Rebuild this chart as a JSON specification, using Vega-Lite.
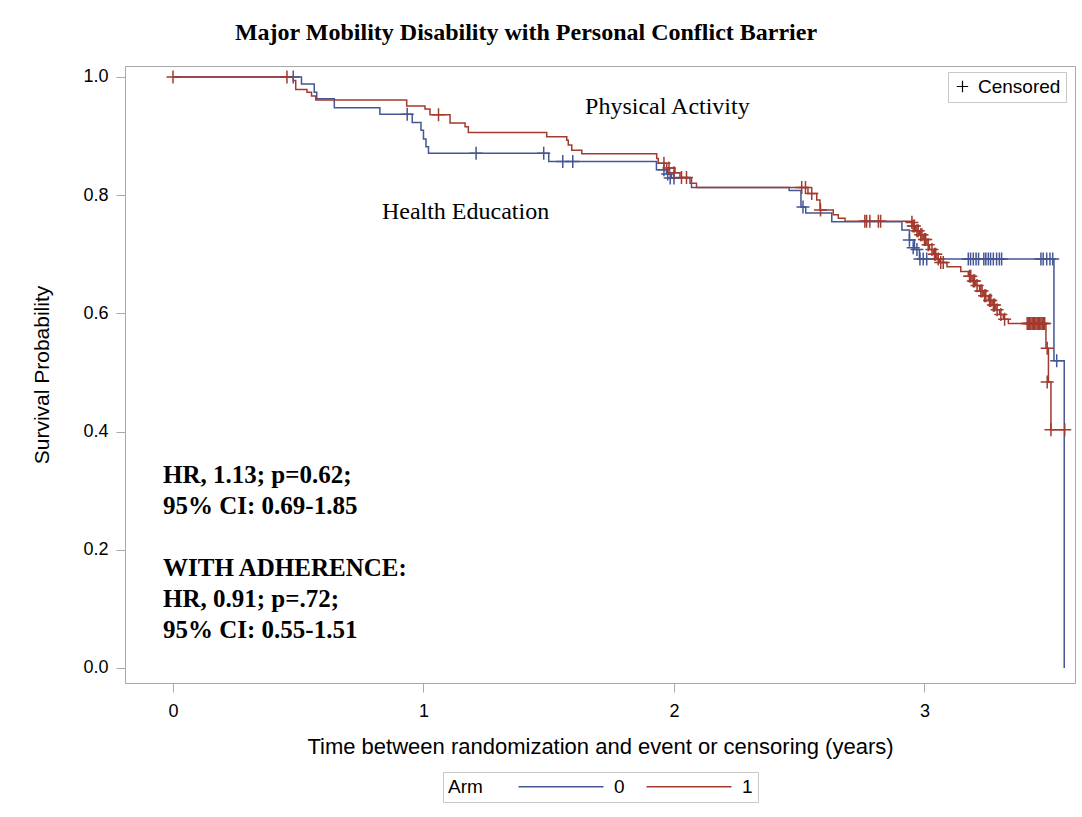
{
  "$schema": "https://vega.github.io/schema/vega-lite/v6.json",
  "width": 950,
  "height": 617,
  "autosize": "none",
  "padding": {"left": 125, "top": 66, "right": 7, "bottom": 134},
  "background": "white",
  "title": {
    "text": "Major Mobility Disability with Personal Conflict Barrier",
    "font": "Liberation Serif",
    "fontSize": 24,
    "fontWeight": "bold",
    "color": "black",
    "anchor": "middle",
    "dx": -74,
    "offset": 21
  },
  "config": {
    "view": {"stroke": "#a8a8a8", "strokeWidth": 1},
    "axis": {
      "grid": false,
      "domain": false,
      "tickColor": "#a8a8a8",
      "tickSize": 9,
      "labelFont": "Liberation Sans",
      "labelFontSize": 18,
      "labelColor": "#000",
      "titleFont": "Liberation Sans",
      "titleFontSize": 21,
      "titleFontWeight": "normal",
      "titleColor": "#000"
    },
    "legend": {
      "labelFont": "Liberation Sans",
      "labelFontSize": 19,
      "labelColor": "#000",
      "titleFont": "Liberation Sans",
      "titleFontSize": 19,
      "titleFontWeight": "normal",
      "titleColor": "#000",
      "strokeColor": "#c8c8c8",
      "padding": 5
    }
  },
  "datasets": {
    "curve": [
      {"arm": "0", "t": 0, "s": 1.0},
      {"arm": "0", "t": 0.513, "s": 0.988},
      {"arm": "0", "t": 0.564, "s": 0.974},
      {"arm": "0", "t": 0.574, "s": 0.963},
      {"arm": "0", "t": 0.644, "s": 0.948},
      {"arm": "0", "t": 0.826, "s": 0.937},
      {"arm": "0", "t": 0.955, "s": 0.923},
      {"arm": "0", "t": 0.99, "s": 0.910},
      {"arm": "0", "t": 1.0, "s": 0.895},
      {"arm": "0", "t": 1.01, "s": 0.882},
      {"arm": "0", "t": 1.02, "s": 0.871},
      {"arm": "0", "t": 1.50, "s": 0.857},
      {"arm": "0", "t": 1.93, "s": 0.843},
      {"arm": "0", "t": 1.97, "s": 0.836},
      {"arm": "0", "t": 1.99, "s": 0.829},
      {"arm": "0", "t": 2.07, "s": 0.813},
      {"arm": "0", "t": 2.46, "s": 0.808},
      {"arm": "0", "t": 2.507, "s": 0.78},
      {"arm": "0", "t": 2.526, "s": 0.77},
      {"arm": "0", "t": 2.63, "s": 0.755},
      {"arm": "0", "t": 2.91, "s": 0.741},
      {"arm": "0", "t": 2.94, "s": 0.724},
      {"arm": "0", "t": 2.96, "s": 0.708},
      {"arm": "0", "t": 2.98, "s": 0.692},
      {"arm": "0", "t": 3.517, "s": 0.52},
      {"arm": "0", "t": 3.558, "s": 0.0},
      {"arm": "1", "t": 0, "s": 1.0},
      {"arm": "1", "t": 0.48, "s": 0.994},
      {"arm": "1", "t": 0.49, "s": 0.979},
      {"arm": "1", "t": 0.535, "s": 0.974},
      {"arm": "1", "t": 0.553, "s": 0.968},
      {"arm": "1", "t": 0.57, "s": 0.961},
      {"arm": "1", "t": 0.933, "s": 0.951},
      {"arm": "1", "t": 1.006, "s": 0.946},
      {"arm": "1", "t": 1.026, "s": 0.936},
      {"arm": "1", "t": 1.106, "s": 0.922},
      {"arm": "1", "t": 1.166, "s": 0.916},
      {"arm": "1", "t": 1.179, "s": 0.906},
      {"arm": "1", "t": 1.492, "s": 0.899},
      {"arm": "1", "t": 1.572, "s": 0.893},
      {"arm": "1", "t": 1.578, "s": 0.885},
      {"arm": "1", "t": 1.592, "s": 0.876},
      {"arm": "1", "t": 1.632, "s": 0.870},
      {"arm": "1", "t": 1.931, "s": 0.862},
      {"arm": "1", "t": 1.937, "s": 0.854},
      {"arm": "1", "t": 1.971, "s": 0.846},
      {"arm": "1", "t": 2.004, "s": 0.838},
      {"arm": "1", "t": 2.024, "s": 0.830},
      {"arm": "1", "t": 2.064, "s": 0.820},
      {"arm": "1", "t": 2.09, "s": 0.813},
      {"arm": "1", "t": 2.535, "s": 0.803},
      {"arm": "1", "t": 2.57, "s": 0.792},
      {"arm": "1", "t": 2.583, "s": 0.775},
      {"arm": "1", "t": 2.636, "s": 0.767},
      {"arm": "1", "t": 2.656, "s": 0.761},
      {"arm": "1", "t": 2.683, "s": 0.756},
      {"arm": "1", "t": 2.95, "s": 0.748},
      {"arm": "1", "t": 2.965, "s": 0.740},
      {"arm": "1", "t": 2.98, "s": 0.733},
      {"arm": "1", "t": 2.995, "s": 0.725},
      {"arm": "1", "t": 3.01, "s": 0.716},
      {"arm": "1", "t": 3.02, "s": 0.708},
      {"arm": "1", "t": 3.035, "s": 0.700},
      {"arm": "1", "t": 3.05, "s": 0.692},
      {"arm": "1", "t": 3.06, "s": 0.686},
      {"arm": "1", "t": 3.09, "s": 0.679},
      {"arm": "1", "t": 3.145, "s": 0.671},
      {"arm": "1", "t": 3.175, "s": 0.663},
      {"arm": "1", "t": 3.19, "s": 0.655},
      {"arm": "1", "t": 3.205, "s": 0.647},
      {"arm": "1", "t": 3.22, "s": 0.638},
      {"arm": "1", "t": 3.235, "s": 0.630},
      {"arm": "1", "t": 3.255, "s": 0.622},
      {"arm": "1", "t": 3.27, "s": 0.614},
      {"arm": "1", "t": 3.285, "s": 0.606},
      {"arm": "1", "t": 3.30, "s": 0.598},
      {"arm": "1", "t": 3.315, "s": 0.590},
      {"arm": "1", "t": 3.335, "s": 0.583},
      {"arm": "1", "t": 3.485, "s": 0.541},
      {"arm": "1", "t": 3.495, "s": 0.484},
      {"arm": "1", "t": 3.505, "s": 0.403},
      {"arm": "1", "t": 3.56, "s": 0.403}
    ],
    "cens": [
      {"arm": "0", "c": "Censored", "t": 0.48, "s": 1.0},
      {"arm": "0", "c": "Censored", "t": 0.935, "s": 0.937},
      {"arm": "0", "c": "Censored", "t": 1.21, "s": 0.871},
      {"arm": "0", "c": "Censored", "t": 1.48, "s": 0.871},
      {"arm": "0", "c": "Censored", "t": 1.556, "s": 0.857},
      {"arm": "0", "c": "Censored", "t": 1.596, "s": 0.857},
      {"arm": "0", "c": "Censored", "t": 1.96, "s": 0.843},
      {"arm": "0", "c": "Censored", "t": 1.975, "s": 0.836},
      {"arm": "0", "c": "Censored", "t": 1.985, "s": 0.829},
      {"arm": "0", "c": "Censored", "t": 2.0, "s": 0.829},
      {"arm": "0", "c": "Censored", "t": 2.515, "s": 0.78},
      {"arm": "0", "c": "Censored", "t": 2.94, "s": 0.724},
      {"arm": "0", "c": "Censored", "t": 2.955, "s": 0.711},
      {"arm": "0", "c": "Censored", "t": 2.97, "s": 0.708},
      {"arm": "0", "c": "Censored", "t": 2.982, "s": 0.692},
      {"arm": "0", "c": "Censored", "t": 2.995, "s": 0.692},
      {"arm": "0", "c": "Censored", "t": 3.009, "s": 0.692},
      {"arm": "0", "c": "Censored", "t": 3.175, "s": 0.692},
      {"arm": "0", "c": "Censored", "t": 3.184, "s": 0.692},
      {"arm": "0", "c": "Censored", "t": 3.195, "s": 0.692},
      {"arm": "0", "c": "Censored", "t": 3.206, "s": 0.692},
      {"arm": "0", "c": "Censored", "t": 3.216, "s": 0.692},
      {"arm": "0", "c": "Censored", "t": 3.237, "s": 0.692},
      {"arm": "0", "c": "Censored", "t": 3.245, "s": 0.692},
      {"arm": "0", "c": "Censored", "t": 3.255, "s": 0.692},
      {"arm": "0", "c": "Censored", "t": 3.264, "s": 0.692},
      {"arm": "0", "c": "Censored", "t": 3.275, "s": 0.692},
      {"arm": "0", "c": "Censored", "t": 3.288, "s": 0.692},
      {"arm": "0", "c": "Censored", "t": 3.299, "s": 0.692},
      {"arm": "0", "c": "Censored", "t": 3.308, "s": 0.692},
      {"arm": "0", "c": "Censored", "t": 3.465, "s": 0.692},
      {"arm": "0", "c": "Censored", "t": 3.474, "s": 0.692},
      {"arm": "0", "c": "Censored", "t": 3.488, "s": 0.692},
      {"arm": "0", "c": "Censored", "t": 3.501, "s": 0.692},
      {"arm": "0", "c": "Censored", "t": 3.512, "s": 0.692},
      {"arm": "0", "c": "Censored", "t": 3.528, "s": 0.52},
      {"arm": "1", "c": "Censored", "t": 0, "s": 1.0},
      {"arm": "1", "c": "Censored", "t": 0.455, "s": 1.0},
      {"arm": "1", "c": "Censored", "t": 1.06, "s": 0.936},
      {"arm": "1", "c": "Censored", "t": 1.96, "s": 0.854},
      {"arm": "1", "c": "Censored", "t": 1.98, "s": 0.846},
      {"arm": "1", "c": "Censored", "t": 2.0, "s": 0.838},
      {"arm": "1", "c": "Censored", "t": 2.03, "s": 0.830},
      {"arm": "1", "c": "Censored", "t": 2.05, "s": 0.830},
      {"arm": "1", "c": "Censored", "t": 2.51, "s": 0.813},
      {"arm": "1", "c": "Censored", "t": 2.525, "s": 0.813},
      {"arm": "1", "c": "Censored", "t": 2.55, "s": 0.803},
      {"arm": "1", "c": "Censored", "t": 2.585, "s": 0.775},
      {"arm": "1", "c": "Censored", "t": 2.762, "s": 0.756},
      {"arm": "1", "c": "Censored", "t": 2.769, "s": 0.756},
      {"arm": "1", "c": "Censored", "t": 2.782, "s": 0.756},
      {"arm": "1", "c": "Censored", "t": 2.816, "s": 0.756},
      {"arm": "1", "c": "Censored", "t": 2.825, "s": 0.756},
      {"arm": "1", "c": "Censored", "t": 2.95, "s": 0.754},
      {"arm": "1", "c": "Censored", "t": 2.955, "s": 0.748},
      {"arm": "1", "c": "Censored", "t": 2.96, "s": 0.748},
      {"arm": "1", "c": "Censored", "t": 2.97, "s": 0.740},
      {"arm": "1", "c": "Censored", "t": 2.975, "s": 0.740},
      {"arm": "1", "c": "Censored", "t": 2.985, "s": 0.733},
      {"arm": "1", "c": "Censored", "t": 2.99, "s": 0.733},
      {"arm": "1", "c": "Censored", "t": 3.0, "s": 0.725},
      {"arm": "1", "c": "Censored", "t": 3.005, "s": 0.725},
      {"arm": "1", "c": "Censored", "t": 3.015, "s": 0.716},
      {"arm": "1", "c": "Censored", "t": 3.03, "s": 0.708},
      {"arm": "1", "c": "Censored", "t": 3.04, "s": 0.700},
      {"arm": "1", "c": "Censored", "t": 3.045, "s": 0.700},
      {"arm": "1", "c": "Censored", "t": 3.055, "s": 0.692},
      {"arm": "1", "c": "Censored", "t": 3.065, "s": 0.686},
      {"arm": "1", "c": "Censored", "t": 3.075, "s": 0.686},
      {"arm": "1", "c": "Censored", "t": 3.18, "s": 0.663},
      {"arm": "1", "c": "Censored", "t": 3.185, "s": 0.663},
      {"arm": "1", "c": "Censored", "t": 3.195, "s": 0.655},
      {"arm": "1", "c": "Censored", "t": 3.2, "s": 0.655},
      {"arm": "1", "c": "Censored", "t": 3.21, "s": 0.647},
      {"arm": "1", "c": "Censored", "t": 3.225, "s": 0.638},
      {"arm": "1", "c": "Censored", "t": 3.23, "s": 0.638},
      {"arm": "1", "c": "Censored", "t": 3.24, "s": 0.630},
      {"arm": "1", "c": "Censored", "t": 3.245, "s": 0.630},
      {"arm": "1", "c": "Censored", "t": 3.26, "s": 0.622},
      {"arm": "1", "c": "Censored", "t": 3.265, "s": 0.622},
      {"arm": "1", "c": "Censored", "t": 3.275, "s": 0.614},
      {"arm": "1", "c": "Censored", "t": 3.28, "s": 0.614},
      {"arm": "1", "c": "Censored", "t": 3.29, "s": 0.606},
      {"arm": "1", "c": "Censored", "t": 3.305, "s": 0.598},
      {"arm": "1", "c": "Censored", "t": 3.32, "s": 0.590},
      {"arm": "1", "c": "Censored", "t": 3.41, "s": 0.583},
      {"arm": "1", "c": "Censored", "t": 3.415, "s": 0.583},
      {"arm": "1", "c": "Censored", "t": 3.42, "s": 0.583},
      {"arm": "1", "c": "Censored", "t": 3.425, "s": 0.583},
      {"arm": "1", "c": "Censored", "t": 3.43, "s": 0.583},
      {"arm": "1", "c": "Censored", "t": 3.435, "s": 0.583},
      {"arm": "1", "c": "Censored", "t": 3.44, "s": 0.583},
      {"arm": "1", "c": "Censored", "t": 3.445, "s": 0.583},
      {"arm": "1", "c": "Censored", "t": 3.45, "s": 0.583},
      {"arm": "1", "c": "Censored", "t": 3.455, "s": 0.583},
      {"arm": "1", "c": "Censored", "t": 3.46, "s": 0.583},
      {"arm": "1", "c": "Censored", "t": 3.465, "s": 0.583},
      {"arm": "1", "c": "Censored", "t": 3.47, "s": 0.583},
      {"arm": "1", "c": "Censored", "t": 3.475, "s": 0.583},
      {"arm": "1", "c": "Censored", "t": 3.48, "s": 0.583},
      {"arm": "1", "c": "Censored", "t": 3.49, "s": 0.541},
      {"arm": "1", "c": "Censored", "t": 3.49, "s": 0.484},
      {"arm": "1", "c": "Censored", "t": 3.505, "s": 0.403},
      {"arm": "1", "c": "Censored", "t": 3.56, "s": 0.403}
    ],
    "armLabels": [
      {"label": "Physical Activity", "t": 1.645, "s": 0.949},
      {"label": "Health Education", "t": 0.834, "s": 0.772}
    ],
    "stats": [
      {"label": "HR, 1.13; p=0.62;", "t": -0.04, "s": 0.327},
      {"label": "95% CI: 0.69-1.85", "t": -0.04, "s": 0.274},
      {"label": "WITH ADHERENCE:", "t": -0.04, "s": 0.169},
      {"label": "HR, 0.91; p=.72;", "t": -0.04, "s": 0.117},
      {"label": "95% CI: 0.55-1.51", "t": -0.04, "s": 0.064}
    ]
  },
  "layer": [
    {
      "data": {"name": "curve"},
      "mark": {"type": "line", "interpolate": "step-after", "strokeWidth": 1.5},
      "encoding": {
        "x": {
          "field": "t", "type": "quantitative",
          "scale": {"domain": [-0.1916, 3.601], "nice": false, "zero": false},
          "axis": {"values": [0, 1, 2, 3], "format": "d", "labelPadding": 10, "titlePadding": 16,
                   "titleFontSize": 22,
                   "title": "Time between randomization and event or censoring (years)"}
        },
        "y": {
          "field": "s", "type": "quantitative",
          "scale": {"domain": [-0.0254, 1.0186], "nice": false, "zero": false},
          "axis": {"values": [0, 0.2, 0.4, 0.6, 0.8, 1.0], "format": ".1f", "labelPadding": 8, "titlePadding": 30,
                   "title": "Survival Probability"}
        },
        "color": {
          "field": "arm", "type": "nominal",
          "scale": {"domain": ["0", "1"], "range": ["#445694", "#A23A2E"]},
          "legend": {
            "title": "Arm", "orient": "none", "legendX": 318, "legendY": 706,
            "direction": "horizontal", "titleOrient": "left",
            "symbolType": "M0,0H17", "symbolSize": 100, "symbolStrokeWidth": 1.5,
            "columnPadding": 12, "labelOffset": 86, "titlePadding": 26
          }
        }
      }
    },
    {
      "data": {"name": "cens"},
      "mark": {"type": "point", "filled": false, "strokeWidth": 1.5, "size": 170, "opacity": 1},
      "encoding": {
        "x": {"field": "t", "type": "quantitative"},
        "y": {"field": "s", "type": "quantitative"},
        "color": {"field": "arm", "type": "nominal"},
        "shape": {
          "field": "c", "type": "nominal",
          "scale": {"range": ["M-1,0H1M0,-1V1"]},
          "legend": {
            "title": null, "orient": "none", "legendX": 823, "legendY": 6,
            "symbolStrokeColor": "#000", "symbolStrokeWidth": 1.2, "symbolSize": 130,
            "labelOffset": 6
          }
        }
      }
    },
    {
      "data": {"name": "armLabels"},
      "mark": {"type": "text", "align": "left", "baseline": "middle", "font": "Liberation Serif", "fontSize": 24, "color": "#000"},
      "encoding": {
        "x": {"field": "t", "type": "quantitative"},
        "y": {"field": "s", "type": "quantitative"},
        "text": {"field": "label"}
      }
    },
    {
      "data": {"name": "stats"},
      "mark": {"type": "text", "align": "left", "baseline": "middle", "font": "Liberation Serif", "fontSize": 25, "fontWeight": "bold", "color": "#000"},
      "encoding": {
        "x": {"field": "t", "type": "quantitative"},
        "y": {"field": "s", "type": "quantitative"},
        "text": {"field": "label"}
      }
    }
  ]
}
